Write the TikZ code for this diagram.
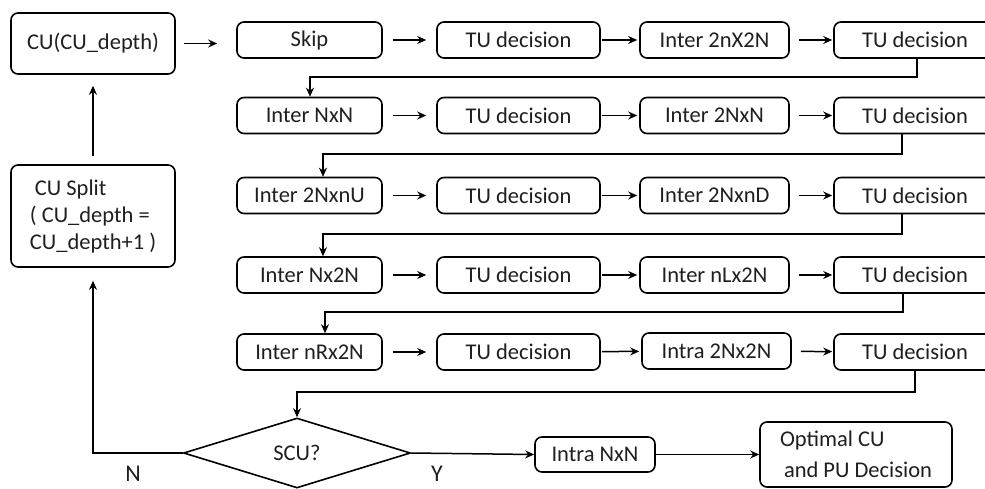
\documentclass[tikz,border=0pt]{standalone}
\usepackage{fontspec}
\setmainfont{Carlito}
\usetikzlibrary{shapes.geometric,arrows.meta,calc}
\begin{document}
\begin{tikzpicture}[x=1pt,y=-1pt,
  box/.style={draw,line width=1.6pt,rounded corners=7pt,minimum height=36pt,inner sep=0pt,font=\fontsize{22.5}{26}\selectfont,text=black!88},
  wa/.style={box,minimum width=145pt},
  wb/.style={box,minimum width=163pt},
  wc/.style={box,minimum width=149pt},
  wd/.style={box,minimum width=162pt},
  arr/.style={line width=1.5pt,-{Stealth[length=9pt,width=8pt]}},
  lbl/.style={font=\fontsize{24}{28}\selectfont,text=black!88}]
\useasboundingbox (0,0) rectangle (985,488);
\clip (0,0) rectangle (985,488);

% left column
\node[box,minimum width=164pt,minimum height=61pt] (cu) at (93,43.5) {CU(CU\_depth)};
\node[box,minimum width=164pt,minimum height=102pt,align=left,font=\fontsize{22.5}{27}\selectfont] (split) at (93,216) {\hspace{5pt}CU Split\\( CU\_depth =\\CU\_depth+1 )};

% row 1
\node[wa] (a1) at (309.5,40) {Skip};
\node[wb] (b1) at (518.5,40) {TU decision};
\node[wc] (c1) at (714.5,40) {Inter 2nX2N};
\node[wd] (d1) at (915,40) {TU decision};
% row 2
\node[wa] (a2) at (309.5,115.5) {Inter NxN};
\node[wb] (b2) at (518.5,115.5) {TU decision};
\node[wc] (c2) at (714.5,115.5) {Inter 2NxN};
\node[wd] (d2) at (915,115.5) {TU decision};
% row 3
\node[wa] (a3) at (309.5,195.5) {Inter 2NxnU};
\node[wb] (b3) at (518.5,195.5) {TU decision};
\node[wc] (c3) at (714.5,195.5) {Inter 2NxnD};
\node[wd] (d3) at (915,195.5) {TU decision};
% row 4
\node[wa] (a4) at (309.5,275) {Inter Nx2N};
\node[wb] (b4) at (518.5,275) {TU decision};
\node[wc] (c4) at (714.5,275) {Inter nLx2N};
\node[wd] (d4) at (915,275) {TU decision};
% row 5
\node[wa] (a5) at (309.5,352) {Inter nRx2N};
\node[wb] (b5) at (518.5,352) {TU decision};
\node[wc] (c5) at (716.5,351) {Intra 2Nx2N};
\node[wd] (d5) at (915,352) {TU decision};

% decision
\node[draw,shape=diamond,line width=1.6pt,minimum width=227pt,minimum height=70pt,inner sep=0pt,font=\fontsize{22.5}{26}\selectfont,text=black!88] (scu) at (297,453) {SCU?};
\node[box,minimum width=120pt,minimum height=35pt] (intra) at (595,454.5) {Intra NxN};
\node[box,minimum width=192pt,minimum height=65pt,align=left,font=\fontsize{22.5}{31}\selectfont] (opt) at (856,454.5) {Optimal CU\\\hspace{4pt}and PU Decision};
\node[lbl] (nl) at (133,474) {N};
\node[lbl] (yl) at (437,474) {Y};

% horizontal arrows
\draw[arr,shorten <=8pt,shorten >=19pt] (cu.east) -- (cu.east -| a1.west);
\foreach \r in {1,...,5}{
  \draw[arr,shorten <=10pt,shorten >=10pt] (a\r) -- (b\r);
  \draw[arr,shorten <=1pt,shorten >=2pt] (b\r) -- (c\r);
  \draw[arr,shorten <=9pt,shorten >=1pt] (c\r) -- (d\r);
}

% row connectors
\coordinate (k1) at (310,77);
\coordinate (k2) at (323,154);
\coordinate (k3) at (323,234);
\coordinate (k4) at (325,312);
\coordinate (k5) at (297,392);
\draw[arr] ([xshift=2pt]d1.south) |- (k1) -- (k1 |- a2.north);
\draw[arr] ([xshift=-13pt]d2.south) |- (k2) -- (k2 |- a3.north);
\draw[arr] ([xshift=-13pt]d3.south) |- (k3) -- (k3 |- a4.north);
\draw[arr] ([xshift=-12pt]d4.south) |- (k4) -- (k4 |- a5.north);
\draw[arr] ([xshift=0pt]d5.south) |- (k5) -- (scu.north);

% loop back
\coordinate (nb) at (93,453);
\draw[arr,shorten >=13pt] (scu.west) -- (nb) -- (split.south);
\draw[arr,shorten <=8pt,shorten >=11pt] (split.north) -- (cu.south);

% yes branch
\draw[arr] (scu.east) -- (intra.west);
\draw[arr] (intra.east) -- (opt.west);
\end{tikzpicture}
\end{document}
